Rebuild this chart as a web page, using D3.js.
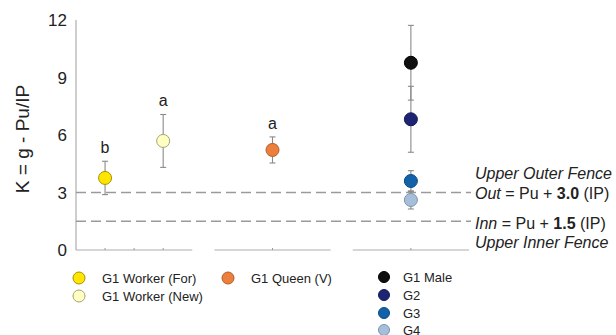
<!DOCTYPE html>
<html>
<head>
<meta charset="utf-8">
<script src="https://cdn.jsdelivr.net/npm/d3@7"></script>
<style>
  body { margin: 0; background: #fff; }
  svg { font-family: "Liberation Sans", Arial, sans-serif; }
</style>
</head>
<body>
<svg id="chart" width="616" height="335"></svg>
<script>
// data
const groups = ["Worker", "Queen", "Male"];
const seriesNames = ["G1 Worker (For)", "G1 Worker (New)", "G1 Queen (V)", "G1 Male", "G2", "G3", "G4"];
const seriesGroup = ["Worker", "Worker", "Queen", "Male", "Male", "Male", "Male"];
const seriesSlot = ["For", "New", "Queen", "Male", "Male", "Male", "Male"];
const kValues = [3.76, 5.69, 5.22, 9.77, 6.82, 3.6, 2.61];
const kErrors = [0.87, 1.38, 0.68, 1.95, 1.72, 0.54, 0.47];
const letters = ["b", "a", "a", "", "", "", ""];
const fills = ["#ffe500", "#ffffc2", "#ee7e3b", "#0f0f0f", "#1d2473", "#1262aa", "#a5bfdb"];
const strokes = ["#a59300", "#a5a27a", "#ad5f2e", "#000000", "#141a55", "#0d4a82", "#7d93aa"];
const yTicks = [0, 3, 6, 9, 12];
const fences = [3.0, 1.5];

const svg = d3.select("#chart");
const plotLeft = 76, plotRight = 469, plotTop = 20, plotBottom = 250;

let y = d3.scaleLinear().domain([0, 12]).range([plotBottom, plotTop]);
let x = d3.scaleBand().domain(groups).range([plotLeft, plotRight]).paddingInner(0.16).paddingOuter(0);

// position of each slot inside its group's band
let slotX = {};
groups.forEach(g => {
    let slots = Array.from(new Set(seriesSlot.filter((s, i) => seriesGroup[i] === g)));
    let sub = d3.scalePoint().domain(slots).range([0, x.bandwidth()]).padding(0.5);
    slots.forEach(s => slotX[s] = x(g) + sub(s));
});

let data = seriesNames.map((name, i) => ({
    name: name, group: seriesGroup[i], slot: seriesSlot[i],
    k: kValues[i], err: kErrors[i], letter: letters[i], fill: fills[i], stroke: strokes[i]
}));

// y axis line (no ticks)
svg.append("line")
    .attr("x1", plotLeft).attr("x2", plotLeft)
    .attr("y1", y(12)).attr("y2", y(0))
    .attr("stroke", "#adadad").attr("stroke-width", 1.2);

svg.selectAll(".ytick")
    .data(yTicks)
    .enter().append("text")
    .attr("class", "ytick")
    .attr("x", 67)
    .attr("y", d => y(d) + 6)
    .attr("text-anchor", "end")
    .attr("font-size", 17)
    .attr("fill", "#222")
    .text(d => d);

svg.append("text")
    .attr("transform", "translate(22," + (y(6) + 4) + ") rotate(-90)")
    .attr("text-anchor", "middle")
    .attr("dominant-baseline", "central")
    .attr("font-size", 19)
    .attr("fill", "#222")
    .text("K = g - Pu/IP");

// group baselines
svg.selectAll(".seg")
    .data(groups)
    .enter().append("line")
    .attr("class", "seg")
    .attr("x1", d => x(d)).attr("x2", d => x(d) + x.bandwidth())
    .attr("y1", y(0)).attr("y2", y(0))
    .attr("stroke", "#adadad").attr("stroke-width", 1.2);

let tickXs = [];
groups.forEach(g => {
    tickXs.push(x(g) + x.bandwidth() / 2);
});
Object.values(slotX).forEach(v => { if (!tickXs.some(t => Math.abs(t - v) < 1)) tickXs.push(v); });
svg.selectAll(".xtick")
    .data(tickXs)
    .enter().append("line")
    .attr("x1", d => d).attr("x2", d => d)
    .attr("y1", y(0)).attr("y2", y(0) - 2)
    .attr("stroke", "#999");

// fence lines
svg.selectAll(".fence")
    .data(fences)
    .enter().append("line")
    .attr("x1", plotLeft).attr("x2", 471)
    .attr("y1", d => y(d)).attr("y2", d => y(d))
    .attr("stroke", "#9a9a9a").attr("stroke-width", 1.3)
    .attr("stroke-dasharray", "10,5");

// error bars
let eb = svg.selectAll(".eb").data(data).enter().append("g").attr("class", "eb");
eb.append("line")
    .attr("x1", d => slotX[d.slot]).attr("x2", d => slotX[d.slot])
    .attr("y1", d => y(d.k + d.err)).attr("y2", d => y(d.k - d.err))
    .attr("stroke", "#8a8a8a").attr("stroke-width", 1.1);
eb.selectAll(".cap")
    .data(d => [d.k + d.err, d.k - d.err].map(v => ({ v: v, cx: slotX[d.slot] })))
    .enter().append("line")
    .attr("x1", d => d.cx - 3).attr("x2", d => d.cx + 3)
    .attr("y1", d => y(d.v)).attr("y2", d => y(d.v))
    .attr("stroke", "#8a8a8a").attr("stroke-width", 1.1);

// points
svg.selectAll(".pt")
    .data(data)
    .enter().append("circle")
    .attr("class", "pt")
    .attr("cx", d => slotX[d.slot])
    .attr("cy", d => y(d.k))
    .attr("r", 6.5)
    .attr("fill", d => d.fill)
    .attr("stroke", d => d.stroke)
    .attr("stroke-width", 1);

svg.selectAll(".letter")
    .data(data.filter(d => d.letter))
    .enter().append("text")
    .attr("x", d => slotX[d.slot])
    .attr("y", d => y(d.k + d.err) - 8)
    .attr("text-anchor", "middle")
    .attr("font-size", 16)
    .attr("fill", "#222")
    .text(d => d.letter);

// fence annotations
let ann = svg.append("g").attr("font-size", 16).attr("fill", "#222");
ann.append("text").attr("x", 475).attr("y", 179)
    .attr("font-style", "italic").text("Upper Outer Fence");
let t1 = ann.append("text").attr("x", 475).attr("y", y(fences[0]) + 6);
t1.append("tspan").attr("font-style", "italic").text("Out");
t1.append("tspan").text(" = Pu + ");
t1.append("tspan").attr("font-weight", "bold").text(fences[0].toFixed(1));
t1.append("tspan").text(" (IP)");
let t2 = ann.append("text").attr("x", 475).attr("y", y(fences[1]) + 8);
t2.append("tspan").attr("font-style", "italic").text("Inn");
t2.append("tspan").text(" = Pu + ");
t2.append("tspan").attr("font-weight", "bold").text(fences[1].toFixed(1));
t2.append("tspan").text(" (IP)");
ann.append("text").attr("x", 475).attr("y", 248)
    .attr("font-style", "italic").text("Upper Inner Fence");

// legends
let legendPos = [
    { x: 79, y: 278, r: 6, fs: 13 },
    { x: 79, y: 296, r: 6, fs: 13 },
    { x: 228, y: 278, r: 6, fs: 13 },
    { x: 384, y: 277, r: 5.5, fs: 13 },
    { x: 384, y: 295, r: 5.5, fs: 13 },
    { x: 384, y: 313, r: 5.5, fs: 13 },
    { x: 384, y: 330, r: 5.5, fs: 13 }
];
let lg = svg.selectAll(".lg")
    .data(data)
    .enter().append("g")
    .attr("class", "lg")
    .attr("transform", (d, i) => "translate(" + legendPos[i].x + "," + legendPos[i].y + ")");
lg.append("circle")
    .attr("r", (d, i) => legendPos[i].r)
    .attr("fill", d => d.fill)
    .attr("stroke", d => d.stroke)
    .attr("stroke-width", 1);
lg.append("text")
    .attr("x", (d, i) => i >= 3 ? 19 : 23)
    .attr("y", 5)
    .attr("font-size", (d, i) => legendPos[i].fs)
    .attr("fill", "#222")
    .text(d => d.name);
</script>
</body>
</html>
